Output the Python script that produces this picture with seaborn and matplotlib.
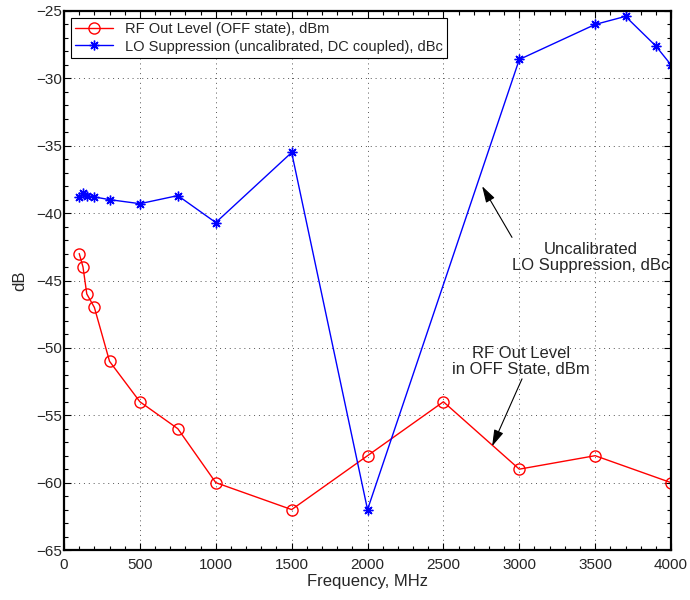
import matplotlib
matplotlib.use("Agg")
import matplotlib.pyplot as plt
import seaborn as sns
import pandas as pd
from matplotlib.ticker import MultipleLocator

rf_freq = [100, 125, 150, 200, 300, 500, 750, 1000, 1500, 2000, 2500, 3000, 3500, 4000]
rf_level = [-43, -44, -46, -47, -51, -54, -56, -60, -62, -58, -54, -59, -58, -60]

lo_freq = [100, 125, 150, 200, 300, 500, 750, 1000, 1500, 2000, 3000, 3500, 3700, 3900, 4000]
lo_supp = [-38.8, -38.5, -38.7, -38.8, -39.0, -39.3, -38.7, -40.7, -35.5, -62.0, -28.6, -26.0, -25.4, -27.6, -29.0]

x_ticks = [0, 500, 1000, 1500, 2000, 2500, 3000, 3500, 4000]
y_ticks = [-65, -60, -55, -50, -45, -40, -35, -30, -25]

sns.set_style("ticks")
plt.rcParams['font.family'] = ['Liberation Sans', 'DejaVu Sans']

fig = plt.figure(figsize=(6.9, 6.0), dpi=100)
ax = fig.add_axes([0.0928, 0.0833, 0.8797, 0.8984])

rf_df = pd.DataFrame({"f": rf_freq, "v": rf_level})
lo_df = pd.DataFrame({"f": lo_freq, "v": lo_supp})

sns.lineplot(data=rf_df, x="f", y="v", ax=ax, color="#ff0000", marker="o",
             markersize=8, markerfacecolor="none", markeredgecolor="#ff0000",
             markeredgewidth=1.0, linewidth=1.0,
             label="RF Out Level (OFF state), dBm", sort=False)
sns.lineplot(data=lo_df, x="f", y="v", ax=ax, color="#0000ff", marker=(8, 2, 0),
             markersize=7, markerfacecolor="#0000ff", markeredgecolor="#0000ff",
             markeredgewidth=1.0, linewidth=1.0,
             label="LO Suppression (uncalibrated, DC coupled), dBc", sort=False)

ax.set_xlim(0, 4000)
ax.set_ylim(-65, -25)
ax.set_xticks(x_ticks)
ax.set_yticks(y_ticks)
ax.set_xticklabels([str(t) for t in x_ticks])
ax.set_yticklabels([str(t).replace('-', '\u2212') for t in y_ticks])
ax.xaxis.set_minor_locator(MultipleLocator(100))
ax.yaxis.set_minor_locator(MultipleLocator(1))
ax.tick_params(which="both", direction="in", top=True, right=True, labelsize=11,
               color="black", width=0.8)
ax.tick_params(which="major", length=5)
ax.tick_params(which="minor", length=3)
ax.tick_params(axis="x", which="major", pad=6)
ax.tick_params(axis="y", which="major", pad=1.5)
for s in ax.spines.values():
    s.set_linewidth(1.6)
    s.set_color("black")

ax.grid(True, which="major", linestyle=(0, (1, 4)), color="#555555", linewidth=0.7)
ax.set_axisbelow(True)

ax.set_xlabel("Frequency, MHz", fontsize=12, labelpad=1)
ax.set_ylabel("dB", fontsize=12, labelpad=6)

leg = ax.legend(loc="upper left", fontsize=10.5, frameon=True, fancybox=False,
                edgecolor="black", borderpad=0.3, labelspacing=0.25,
                handlelength=2.6, borderaxespad=0.45, framealpha=1)
leg.get_frame().set_linewidth(0.8)

arrow = dict(arrowstyle="-|>,head_length=1.0,head_width=0.3",
             color="black", lw=0.8, shrinkA=0, shrinkB=0)
ax.text(3470, -43.3, "Uncalibrated\nLO Suppression, dBc", ha="center", va="center",
        fontsize=12, linespacing=1.05)
ax.annotate("", xy=(2755, -38.0), xytext=(2952, -41.8), arrowprops=arrow)
ax.text(3012, -51.0, "RF Out Level\nin OFF State, dBm", ha="center", va="center",
        fontsize=12, linespacing=1.05)
ax.annotate("", xy=(2821, -57.3), xytext=(3018, -52.3), arrowprops=arrow)

fig.savefig("out.png", dpi=100)
